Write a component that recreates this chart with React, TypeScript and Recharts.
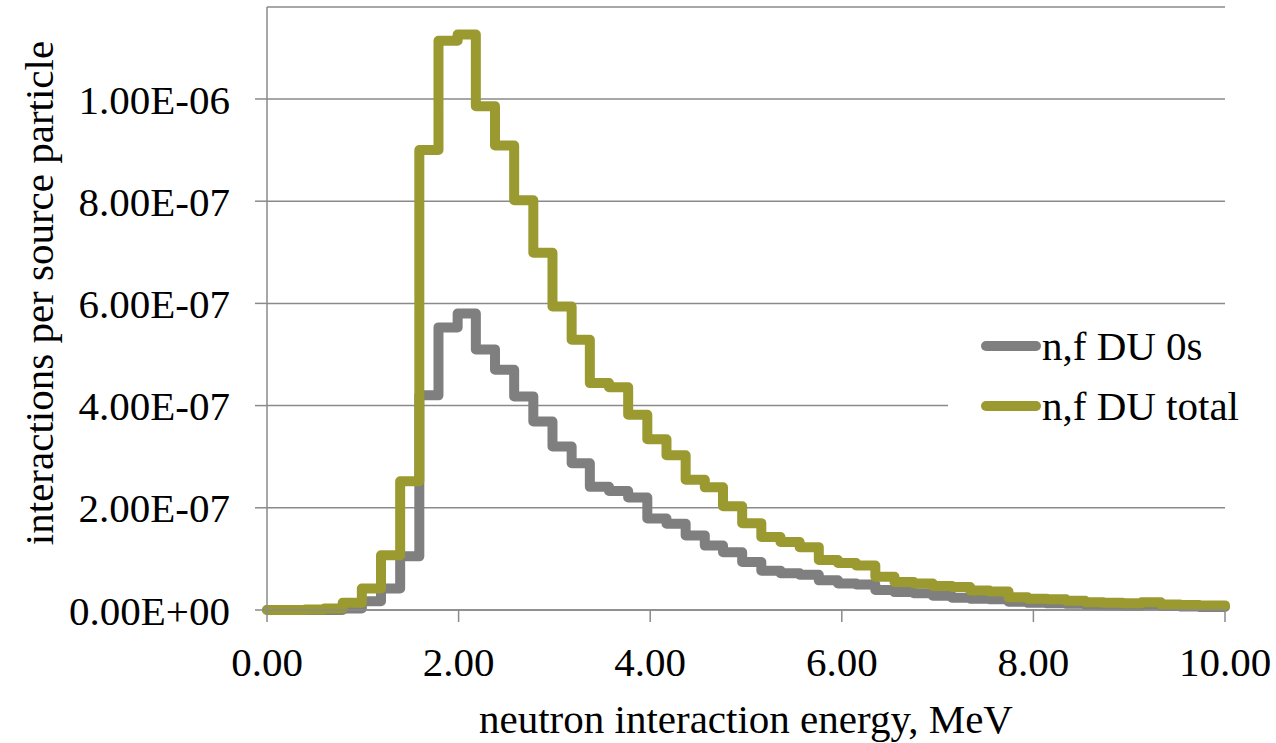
import { LineChart, Line, XAxis, YAxis, CartesianGrid, Legend, Label } from 'recharts';

// lower edge of every energy bin (MeV)
const binStart = [
  0.0, 0.2, 0.4, 0.6, 0.79, 0.99, 1.19, 1.39, 1.59, 1.79,
  1.99, 2.18, 2.38, 2.58, 2.78, 2.98, 3.18, 3.37, 3.57, 3.77,
  3.97, 4.17, 4.37, 4.57, 4.76, 4.96, 5.16, 5.36, 5.56, 5.76,
  5.96, 6.15, 6.35, 6.55, 6.75, 6.95, 7.15, 7.34, 7.54, 7.74,
  7.94, 8.14, 8.34, 8.54, 8.73, 8.93, 9.13, 9.33, 9.53, 9.73,
];
const lastEdge = 10.0;

// interactions per source particle, in units of 1E-06
const du0s = [
  0, 0, 0, 0, 0.003, 0.017, 0.042, 0.105, 0.42, 0.553,
  0.58, 0.51, 0.47, 0.418, 0.369, 0.32, 0.287, 0.241, 0.233, 0.22,
  0.179, 0.169, 0.146, 0.126, 0.113, 0.094, 0.077, 0.072, 0.069, 0.058,
  0.052, 0.05, 0.039, 0.035, 0.033, 0.028, 0.024, 0.022, 0.021, 0.016,
  0.014, 0.013, 0.012, 0.01, 0.009, 0.008, 0.011, 0.008, 0.007, 0.006,
];
const duTotal = [
  0, 0, 0.001, 0.003, 0.014, 0.042, 0.107, 0.252, 0.9, 1.114,
  1.126, 0.986, 0.909, 0.802, 0.699, 0.594, 0.529, 0.444, 0.436, 0.382,
  0.334, 0.303, 0.255, 0.24, 0.203, 0.17, 0.143, 0.133, 0.123, 0.098,
  0.092, 0.087, 0.065, 0.055, 0.052, 0.047, 0.045, 0.038, 0.036, 0.025,
  0.022, 0.021, 0.018, 0.015, 0.014, 0.013, 0.015, 0.011, 0.01, 0.009,
];

const xTicks = [0, 2, 4, 6, 8, 10];
const yTicks = [0, 2e-7, 4e-7, 6e-7, 8e-7, 1e-6];

const GREY = '#7f7f7f';
const OLIVE = '#9a9a30';
const AXIS = '#8a8a8a';
const FONT = '"Liberation Serif", "Times New Roman", serif';

const rows = binStart.map((e, i) => ({
  energy: e,
  du0s: du0s[i] * 1e-6,
  duTotal: duTotal[i] * 1e-6,
}));
// close the last bin at the end of the axis
rows.push({
  energy: lastEdge,
  du0s: du0s[du0s.length - 1] * 1e-6,
  duTotal: duTotal[duTotal.length - 1] * 1e-6,
});

// Excel style: 2.00E-07
const sci = (v: number) => {
  const [m, e] = v.toExponential(2).split('e');
  const sign = e[0];
  return `${m}E${sign}${e.slice(1).padStart(2, '0')}`;
};

const legendItems = [
  { name: 'n,f DU 0s', color: GREY },
  { name: 'n,f DU total', color: OLIVE },
];

function LegendBox() {
  return (
    <div style={{ background: '#fff', paddingLeft: 32, fontFamily: FONT }}>
      {legendItems.map((it) => (
        <div key={it.name} style={{ display: 'flex', alignItems: 'center', height: 60 }}>
          <svg width={62} height={14} style={{ display: 'block' }}>
            <line x1={6} y1={7} x2={56} y2={7} stroke={it.color} strokeWidth={10} strokeLinecap="round" />
          </svg>
          <span style={{ fontSize: 41, lineHeight: 1, color: '#000' }}>{it.name}</span>
        </div>
      ))}
    </div>
  );
}

export default function App() {
  const tickStyle = { fill: '#000', fontSize: 41, fontFamily: FONT };
  return (
    <div style={{ position: 'absolute', left: 0, top: 0, width: 1276, height: 743, background: '#fff' }}>
      <LineChart
        width={1276}
        height={743}
        data={rows}
        margin={{ top: 7, right: 51, bottom: 0, left: 67 }}
        style={{ fontFamily: FONT }}
      >
        <CartesianGrid vertical={false} stroke={AXIS} strokeWidth={1.5} />
        <XAxis
          dataKey="energy"
          type="number"
          domain={[0, 10]}
          ticks={xTicks}
          tickFormatter={(v: number) => v.toFixed(2)}
          height={133}
          tickSize={12}
          tickMargin={25}
          stroke={AXIS}
          strokeWidth={1.5}
          tick={tickStyle}
        >
          <Label
            value="neutron interaction energy, MeV"
            position="insideBottom"
            offset={10}
            style={{ fill: '#000', fontSize: 41, fontFamily: FONT }}
          />
        </XAxis>
        <YAxis
          type="number"
          domain={[0, 1.18e-6]}
          ticks={yTicks}
          tickFormatter={sci}
          width={200}
          tickSize={12}
          tickMargin={25}
          stroke={AXIS}
          strokeWidth={1.5}
          tick={tickStyle}
        >
          <Label
            content={() => (
              <text
                x={53}
                y={293}
                transform="rotate(-90 53 293)"
                textAnchor="middle"
                fill="#000"
                fontSize={41}
                fontFamily={FONT}
              >
                interactions per source particle
              </text>
            )}
          />
        </YAxis>
        <Legend
          layout="horizontal"
          verticalAlign="middle"
          align="center"
          content={() => <LegendBox />}
          wrapperStyle={{ position: 'absolute', left: 948, top: 316, width: 300 }}
        />
        <Line
          type="stepAfter"
          dataKey="du0s"
          name="n,f DU 0s"
          stroke={GREY}
          strokeWidth={10}
          strokeLinejoin="round"
          strokeLinecap="round"
          dot={false}
          isAnimationActive={false}
        />
        <Line
          type="stepAfter"
          dataKey="duTotal"
          name="n,f DU total"
          stroke={OLIVE}
          strokeWidth={10}
          strokeLinejoin="round"
          strokeLinecap="round"
          dot={false}
          isAnimationActive={false}
        />
      </LineChart>
    </div>
  );
}
